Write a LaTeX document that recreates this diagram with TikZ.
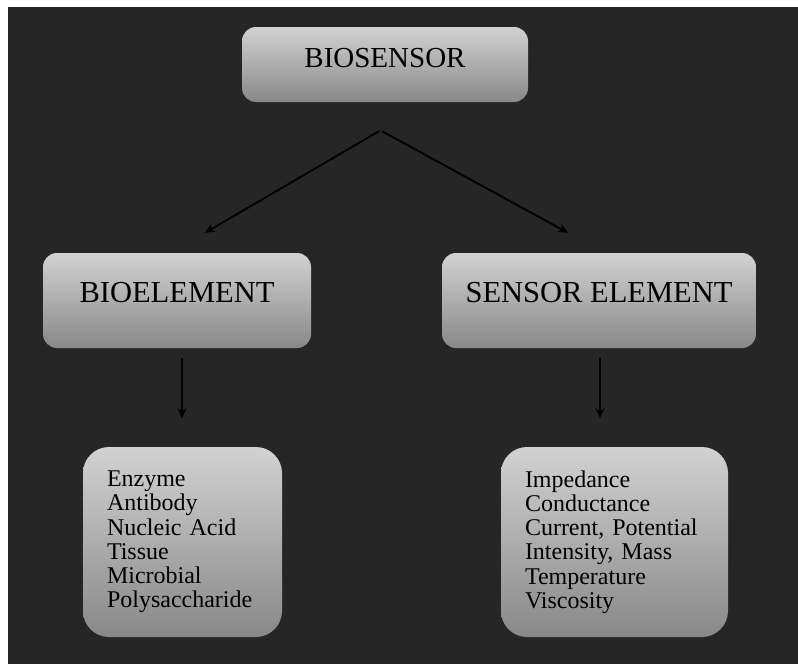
\documentclass[tikz,border=0pt]{standalone}
\usepackage{fontspec}
\setmainfont{Liberation Serif}
\usepackage{xcolor}
\usetikzlibrary{arrows.meta, calc, positioning}

\definecolor{bgdark}{RGB}{38,38,38}
\definecolor{boxtop}{RGB}{210,210,210}
\definecolor{boxmid}{RGB}{190,190,190}
\definecolor{boxbot}{RGB}{136,136,136}

\tikzset{
    headbox/.style={rounded corners=14pt, top color=boxtop, middle color=boxmid, bottom color=boxbot,
        font=\fontsize{30.5}{33}\selectfont, text depth=16pt, inner sep=0pt},
    listbox/.style={rounded corners=26pt, top color=boxtop, middle color=boxmid, bottom color=boxbot,
        font=\fontsize{24}{24.2}\selectfont, align=left, inner xsep=24pt, inner ysep=0pt,
        minimum height=190pt},
    arr/.style={-{Stealth[length=10pt,width=9pt]}, line width=1.8pt, black}
}

\begin{document}
\begin{tikzpicture}[x=1pt, y=1pt]
        \useasboundingbox (0,0) rectangle (798,-664);
        \fill[white] (0,0) rectangle (798,-664);
        \fill[bgdark] (8,-7) rectangle (798,-664);

        % top row
        \node[headbox, minimum width=286pt, minimum height=75pt, font=\fontsize{29}{32}\selectfont, text depth=14pt] (Bs) at (385,-64.5) {BIOSENSOR};

        % second row
        \node[headbox, minimum width=268pt, minimum height=95pt] (Be) at (177,-300.5) {BIOELEMENT};
        \node[headbox, minimum width=314pt, minimum height=95pt] (Se) at (599,-300.5) {SENSOR ELEMENT};

        % lists
        \node[listbox, text width=151pt] (Bl) at (182.5,-542) {Enzyme\\ Antibody\\ Nucleic Acid\\ Tissue\\ Microbial\\ Polysaccharide};
        \node[listbox, text width=179pt] (Sl) at (614.5,-542) {Impedance\\ Conductance\\ Current, Potential\\ Intensity, Mass\\ Temperature\\ Viscosity};

        \coordinate (fork) at ($(Bs.south)+(-6,-29)$);
        \draw[arr] (fork) -- ($(Be.north)+(28,20)$);
        \draw[arr] ($(fork)+(3,0)$) -- ($(Se.north)+(-31,20)$);
        \draw[arr, shorten <=10pt, shorten >=29pt] ($(Be.south)+(5,0)$) -- ($(Be.south)+(5,-99)$);
        \draw[arr, shorten <=10pt, shorten >=29pt] ($(Se.south)+(1,0)$) -- ($(Se.south)+(1,-99)$);
    \end{tikzpicture}
\end{document}
